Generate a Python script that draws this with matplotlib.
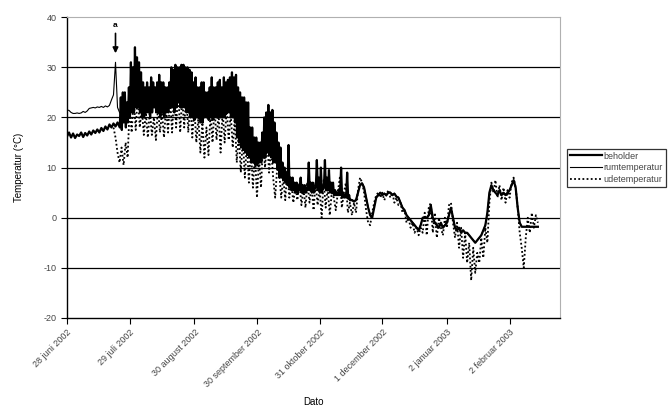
import numpy as np
import matplotlib
matplotlib.use("Agg")
import matplotlib.pyplot as plt

plt.rcParams['font.family'] = ['Liberation Sans', 'DejaVu Sans']
plt.rcParams['axes.unicode_minus'] = False

# daglige aflæsninger fra 28 juni 2002 (dag 0)
start = np.datetime64('2002-06-28')

# beholder: dag 0-25, en værdi pr. dag
beholder_foer = [
    16.2, 17.0, 16.0, 16.8, 15.9, 16.6, 16.3, 17.0, 16.1, 16.9,
    16.4, 17.2, 16.6, 17.4, 16.9, 17.6, 17.0, 17.9, 17.3, 18.2,
    17.6, 18.6, 18.0, 18.8, 18.2, 19.0,
]
# beholder: dag 26-139, døgnets max og min
beholder_max = [
    24, 25, 25, 23, 26, 31, 30, 34, 32, 31,
    29, 27, 26, 27, 26, 28, 27, 26, 27, 28.5,
    27, 27, 26, 26, 27, 30, 29.5, 30.5, 30, 30,
    30.5, 30.5, 30, 30, 29.5, 29, 27, 28, 26, 26,
    27, 27, 25, 25, 26, 28, 26, 26, 27, 27.5,
    26, 28, 27, 27.5, 28, 29, 28, 28.5, 26, 25,
    24, 24, 23, 23, 18, 18, 16, 16, 15, 15,
    17, 20, 21, 22.5, 21, 21.5, 19, 17, 15, 14,
    11, 10, 9, 14.5, 8, 8, 7, 7, 6.5, 8,
    6.5, 6.5, 6, 11, 7, 7, 6, 11.5, 8, 10,
    6, 11.5, 8, 9.5, 7, 7, 5.5, 5, 5.5, 10,
    5, 4.5, 9, 4.5,
]
beholder_min = [
    18, 17.5, 19, 18, 19, 20, 21, 21, 22, 22,
    21, 20, 20, 21, 21, 20, 21, 22, 21, 21,
    20, 21, 20, 21, 21, 22, 22, 21, 22, 23,
    22, 22, 22, 21, 21, 20, 20, 19.5, 20, 20,
    19, 19, 20, 20, 19.5, 20, 19.5, 20, 20, 20,
    20, 20, 20, 21, 21, 20, 20, 19, 16, 15,
    14, 13.5, 13, 12.5, 12, 11, 11, 10.5, 10.5, 11,
    11, 12, 12, 13, 12.5, 12, 11, 11, 10, 8,
    8, 7.5, 7, 6.5, 6, 5.5, 5.5, 5, 5, 5.5,
    5, 5, 5, 5.5, 5.5, 5, 5, 6, 5.5, 5,
    5, 6, 5.5, 5.5, 5, 5, 4.5, 4.5, 4.5, 4.5,
    4, 4, 4, 3.8,
]
# beholder: dag 140-233, en værdi pr. dag
beholder_efter = [
    3.5, 3.5, 3.2, 3.5, 5.0, 6.5, 6.8, 6.0, 4.0, 2.0,
    0.5, 0.0, 2.0, 4.0, 4.5, 5.0, 4.5, 4.8, 4.5, 5.0,
    5.0, 4.5, 4.8, 4.2, 4.0, 3.0, 2.0, 1.5, 0.5, 0.0,
    -0.5, -1.0, -1.5, -2.0, -2.5, -1.5, 0.0, 0.0, 0.0, 0.5,
    2.5, 0.0, -1.0, -1.5, -2.0, -1.0, -2.0, -1.5, -1.0, 0.5,
    2.0, 0.0, -2.0, -2.5, -2.0, -3.0, -2.5, -3.0, -3.0, -3.5,
    -4.0, -4.5, -5.0, -4.5, -4.0, -3.5, -2.5, -1.5, 1.0, 5.0,
    6.5, 5.5, 5.0, 4.5, 5.5, 4.5, 5.0, 4.5, 5.0, 5.5,
    6.5, 7.5, 6.0, 2.0, -1.0, -1.8, -1.8, -1.8, -1.8, -1.8,
    -1.8, -1.8, -1.8, -1.8,
]

rumtemperatur = [
    21.5, 21.4, 21.0, 20.8, 20.8, 20.9, 20.8, 20.9, 21.2, 21.0,
    21.3, 21.8, 21.9, 22.0, 21.9, 22.1, 22.0, 22.2, 22.0, 22.3,
    22.1, 22.4, 23.5, 24.5, 31.0, 22.0, 21.0, 20.5, 21.0, 20.0,
    21.5, 23.0, 24.0, 25.0, 24.0, 23.0, 23.5, 22.5, 22.0, 23.0,
    22.5, 23.0, 22.0, 23.5, 23.0, 24.0, 23.0, 23.5, 22.5, 23.0,
    23.0, 24.5, 25.0, 25.5, 25.0, 25.5, 26.0, 25.5, 25.0, 25.5,
    24.5, 24.0, 23.0, 23.5, 22.0, 22.5, 22.0, 23.0, 22.0, 21.5,
    22.0, 23.0, 22.5, 22.0, 22.5, 23.0, 23.0, 23.5, 23.0, 23.5,
    24.0, 24.5, 24.0, 23.5, 19.0, 19.5, 17.0, 18.0, 16.0, 17.0,
    14.5, 14.0, 13.0, 13.5, 12.5, 12.5, 13.0, 15.0, 15.5, 16.0,
    16.0, 15.5, 15.0, 14.5, 12.0, 10.5, 9.0, 8.5, 8.0, 9.0,
    7.0, 7.0, 6.5, 6.0, 6.0, 6.5, 6.0, 6.0, 6.0, 7.0,
    6.5, 6.0, 6.0, 7.0, 6.5, 6.5, 6.0, 7.0, 6.5, 6.5,
    6.0, 6.0, 5.5, 5.0, 5.5, 6.0, 5.0, 4.5, 5.0, 4.5,
    3.8, 3.6, 3.4, 3.6, 5.2, 6.6, 7.0, 6.2, 4.2, 2.2,
    0.6, 0.2, 2.2, 4.2, 4.6, 5.0, 4.6, 4.9, 4.6, 5.1,
    5.1, 4.6, 4.9, 4.3, 4.1, 3.1, 2.1, 1.6, 0.6, 0.1,
    -0.4, -0.9, -1.4, -1.9, -2.3, -1.4, 0.0, 0.0, 0.0, 0.4,
    1.0, 0.0, -0.9, -1.4, -1.9, -1.2, -1.9, -1.4, -0.9, 0.4,
    1.8, 0.1, -1.9, -2.4, -2.1, -2.9, -2.6, -3.0, -3.1, -3.5,
    -4.0, -4.4, -4.9, -4.5, -4.0, -3.4, -2.5, -1.4, 1.0, 4.8,
    6.3, 5.4, 4.9, 4.6, 5.3, 4.6, 4.9, 4.6, 5.0, 5.4,
    6.4, 7.3, 5.9, 2.1, -0.9, -1.8, -1.8, -1.8, -1.8, -1.8,
    -1.8, -1.8, -1.8, -1.8,
]

# udetemperatur begynder på dag 23
ude_start = 23
udetemperatur = [
    18.0, 16.0, 13.0, 11.0, 14.0, 10.5, 15.0,
    12.0, 22.0, 17.0, 24.0, 17.5, 25.0, 18.0, 22.0, 16.5, 21.0,
    16.0, 21.5, 16.5, 20.0, 15.5, 22.0, 17.0, 21.0, 16.0, 22.0,
    17.0, 24.0, 17.0, 25.0, 18.0, 25.5, 17.0, 24.0, 18.0, 25.0,
    17.0, 23.0, 16.0, 22.0, 15.0, 20.0, 13.0, 19.0, 12.0, 18.0,
    12.5, 21.0, 15.0, 22.0, 15.5, 21.0, 13.0, 21.5, 15.0, 22.0,
    15.5, 21.0, 14.0, 20.0, 11.0, 17.0, 9.0, 16.0, 8.0, 15.0,
    7.0, 14.0, 6.0, 13.0, 4.0, 12.0, 6.0, 15.0, 10.0, 16.0,
    9.0, 14.0, 8.0, 4.0, 10.0, 9.0, 4.0, 8.0, 3.5, 9.5,
    4.0, 7.0, 3.0, 6.5, 3.5, 7.0, 2.5, 6.0, 2.0, 7.0,
    3.0, 6.5, 1.5, 7.0, 2.5, 6.0, 0.0, 7.5, 2.0, 6.0,
    0.5, 5.0, 4.0, 1.5, 5.0, 8.0, 2.0, 5.0, 7.0, 1.0,
    3.0, 0.5, 3.0, 1.0, 5.5, 8.0, 7.0, 5.0, 1.5, -1.0,
    -1.5, 1.0, 3.0, 4.5, 5.0, 4.0, 5.0, 3.5, 4.5, 5.5,
    4.0, 5.0, 3.0, 4.0, 2.5, 3.0, 1.0, 1.5, -1.0, 0.0,
    -2.0, -1.0, -3.0, -2.0, -3.5, -2.0, -3.0, 1.0, -3.5, 2.0,
    3.0, -3.0, 1.0, -4.0, 0.0, -2.0, -3.5, 0.0, -2.0, 2.5,
    3.0, -1.0, -4.0, -1.0, -6.0, -2.0, -8.0, -3.0, -9.0, -5.0,
    -12.5, -6.0, -11.0, -7.0, -9.0, -4.0, -8.0, -2.0, -5.0, 3.0,
    7.0, 5.0, 7.5, 4.0, 6.5, 3.5, 6.0, 3.0, 5.5, 4.0,
    7.0, 8.0, 6.0, 2.0, -3.0, -6.0, -10.0, -4.0, 0.0, -3.0,
    1.0, -2.0, 0.5, -1.0,
]

tick_dates = ['2002-06-28', '2002-07-29', '2002-08-30', '2002-09-30',
              '2002-10-31', '2002-12-01', '2003-01-02', '2003-02-02']
tick_labels = ['28 juni 2002', '29 juli 2002', '30 august 2002',
               '30 september 2002', '31 oktober 2002', '1 december 2002',
               '2 januar 2003', '2 februar 2003']

# tidspunkter i timer efter start
n1 = len(beholder_foer)
n2 = len(beholder_max)
h_foer = np.arange(n1) * 24
h_somm = np.column_stack([(n1 + np.arange(n2)) * 24 + 3,
                          (n1 + np.arange(n2)) * 24 + 15]).ravel()
h_efter = (n1 + n2 + np.arange(len(beholder_efter))) * 24
v_somm = np.column_stack([beholder_min, beholder_max]).ravel()

t_beh = start + np.concatenate([h_foer, h_somm, h_efter]).astype('timedelta64[h]')
v_beh = np.concatenate([beholder_foer, v_somm, beholder_efter])
t_rum = start + np.arange(len(rumtemperatur)).astype('timedelta64[D]')
t_ude = start + (ude_start + np.arange(len(udetemperatur))).astype('timedelta64[D]')

fig = plt.figure(figsize=(6.7, 4.09), dpi=100)
ax = fig.add_axes([0.1, 0.2225, 0.736, 0.7355])

ax.plot(t_beh, v_beh, color='black', lw=1.6, label='beholder')
ax.plot(t_rum, rumtemperatur, color='black', lw=0.8, label='rumtemperatur')
ax.plot(t_ude, udetemperatur, color='black', lw=1.3, ls=(0, (1, 1.3)),
        label='udetemperatur')

ax.set_ylim(-20, 40)
ax.set_yticks(range(-20, 41, 10))
ax.set_xlim(start, start + np.timedelta64(244, 'D'))
ax.set_xticks(np.array(tick_dates, dtype='datetime64[D]'))
ax.set_xticklabels(tick_labels, rotation=45, ha='right', rotation_mode='anchor')

for y in range(-10, 40, 10):
    ax.axhline(y, color='black', lw=0.9, zorder=0)

ax.spines['top'].set_color('#b0b0b0')
ax.spines['right'].set_color('#b0b0b0')
ax.spines['left'].set_linewidth(1.0)
ax.spines['bottom'].set_linewidth(1.0)
ax.tick_params(labelsize=6.5, length=4, width=0.8, colors='black',
               labelcolor='#444444')
ax.tick_params(axis='x', pad=3)

ax.annotate('a', xy=(start + np.timedelta64(24, 'D'), 32.8),
            xytext=(start + np.timedelta64(24, 'D'), 37.6),
            ha='center', va='bottom', fontsize=6, fontweight='bold',
            arrowprops=dict(arrowstyle='-|>', color='black', lw=1.2,
                            mutation_scale=8, shrinkA=1, shrinkB=0))

ax.set_xlabel('Dato', fontsize=7, labelpad=6)
ax.set_ylabel('Temperatur (°C)', fontsize=7, labelpad=14)

leg = fig.legend(loc='upper left', bbox_to_anchor=(0.846, 0.636),
                 fontsize=6.5, frameon=True, fancybox=False,
                 edgecolor='black', handlelength=3.6, handletextpad=0.2,
                 borderpad=0.3, labelspacing=0.3, borderaxespad=0)
leg.get_frame().set_linewidth(0.9)
for txt in leg.get_texts():
    txt.set_color('#444444')

fig.savefig('out.png', dpi=100)
